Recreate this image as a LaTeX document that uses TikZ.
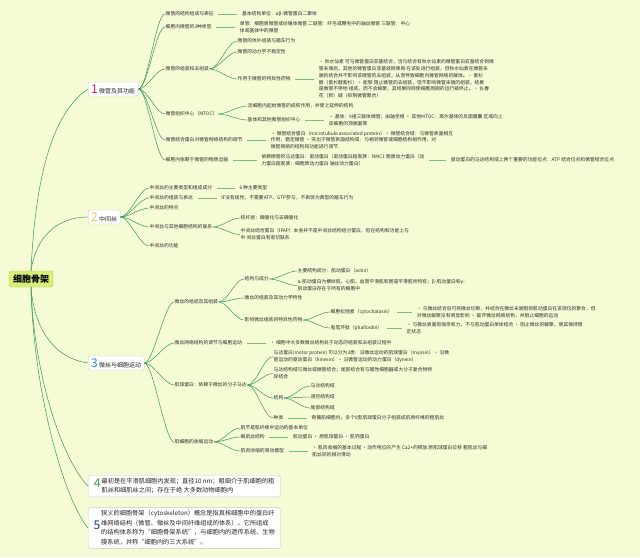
\documentclass[tikz,border=0pt]{standalone}
\usepackage{fontspec}
\setmainfont{Noto Sans CJK SC}
\usepackage{xcolor}
\usetikzlibrary{positioning}
\definecolor{bgcolor}{RGB}{245,251,212}
\definecolor{rootcolor}{RGB}{216,238,118}
\definecolor{branchcolor}{RGB}{58,148,100}
\definecolor{linkcolor}{RGB}{120,190,130}
\definecolor{leafcolor}{RGB}{45,45,45}
\definecolor{numone}{RGB}{222,30,72}
\definecolor{numtwo}{RGB}{246,196,60}
\definecolor{numthree}{RGB}{40,140,215}
\definecolor{numfour}{RGB}{50,160,60}
\definecolor{numfive}{RGB}{30,50,140}
\newcommand{\leaffont}{\fontsize{4.8}{6.8}\selectfont}
\newcommand{\topicfont}{\fontsize{6}{8}\selectfont}
\newcommand{\notefont}{\fontsize{6.2}{9.8}\selectfont}
\newcommand{\topicnum}[2]{\textcolor{#1}{\fontsize{12}{12}\selectfont #2}}

\begin{document}
\begin{tikzpicture}[x=1pt, y=-1pt,
	leaf/.style={anchor=west, inner sep=0.5pt, align=left, font=\leaffont, text=leafcolor},
	topic/.style={anchor=west, draw=black!22, fill=white, rounded corners=1.5pt, inner xsep=3pt, inner ysep=1pt, minimum height=14pt, font=\topicfont, text=black!85},
	rootnode/.style={fill=rootcolor, draw=rootcolor!85!black, rounded corners=2pt, font=\fontsize{9}{9}\selectfont\bfseries, minimum width=44pt, minimum height=16pt, inner sep=1pt},
	branch/.style={draw=branchcolor, line width=0.5pt},
	link/.style={draw=linkcolor, line width=0.9pt, shorten <=4pt, shorten >=4pt},
	fancurve/.style={to path={.. controls +(9pt,0pt) and +(-9pt,0pt) .. (\tikztotarget)}}
	]
\path[use as bounding box, fill=bgcolor] (0,0) rectangle (640,557);

% root and main topics
\node[rootnode] (root) at (31,279) {细胞骨架};
\node[topic] (t1) at (88,89) {\topicnum{numone}{1}\ 微管及其功能};
\node[topic] (t2) at (88,217) {\topicnum{numtwo}{2}\ 中间丝};
\node[topic] (t3) at (88,363) {\topicnum{numthree}{3}\ 微丝与细胞运动};
\node[topic, minimum width=192pt, inner ysep=1pt] (t4) at (88,486) {\topicnum{numfour}{4}\,{\notefont\begin{tabular}{@{}l@{}}
最初是在平滑肌细胞内发现；直径10 nm；粗细介于肌细胞的粗\\
肌丝和细肌丝之间；存在于绝 大多数动物细胞内\end{tabular}}};
\node[topic, minimum width=192pt, inner ysep=1pt] (t5) at (88,528) {\topicnum{numfive}{5}\,{\notefont\begin{tabular}{@{}l@{}}
狭义的细胞骨架（cytoskeleton）概念是指真核细胞中的蛋白纤\\
维网络结构（微管、微丝及中间纤维组成的体系）。它所组成\\
的结构体系称为“细胞骨架系统”，与细胞内的遗传系统、生物\\
膜系统，并称“细胞内的三大系统”。\end{tabular}}};

\draw[branch] (root.north) .. controls +(5,-110) and +(-30,20) .. (t1.west);
\draw[branch] (root.north) .. controls +(5,-35) and +(-30,0) .. (t2.west);
\draw[branch] (root.south) .. controls +(3,40) and +(-35,-5) .. (t3.west);
\draw[branch] (root.south) .. controls +(3,90) and +(-25,-25) .. (t4.west);
\draw[branch] (root.south) .. controls +(2,100) and +(-25,-30) .. (t5.west);

% 1 微管及其功能
\node[leaf] (t1-1) at (165,14) {微管的结构组成与表征};
\node[leaf] (t1-2) at (165,27) {细胞内微管的3种类型};
\node[leaf] (t1-3) at (165,69) {微管的组装和去组装};
\node[leaf] (t1-4) at (165,114) {微管组织中心（MTOC）};
\node[leaf] (t1-5) at (165,140) {微管结合蛋白对微管网络结构的调节};
\node[leaf] (t1-6) at (165,160) {细胞内依赖于微管的物质运输};
\foreach \c in {t1-1,t1-2,t1-3,t1-4,t1-5,t1-6}
	\draw[branch] (t1.east) to[fancurve] (\c.west);

\node[leaf, right=27pt of t1-1] (t1-1-1) {基本结构单位：αβ-微管蛋白二聚体};
\node[leaf, right=27pt of t1-2] (t1-2-1) {单管：细胞质微管或纺锤体微管 二联管：纤毛或鞭毛中的轴丝微管 三联管：中心\\体或基体中的微管};
\node[leaf] (t1-3-1) at (237,41) {微管的体外组装与踏车行为};
\node[leaf] (t1-3-2) at (237,52) {微管的动力学不稳定性};
\node[leaf] (t1-3-3) at (237,79) {作用于微管的特异性药物};
\foreach \c in {t1-3-1,t1-3-2,t1-3-3}
	\draw[branch] (t1-3.east) to[fancurve] (\c.west);
\node[leaf, right=27pt of t1-3-3] (t1-3-3-1) {• 秋水仙素 可与微管蛋白亚基结合，当与结合有秋水仙素的微管蛋白亚基结合到微\\
管末端后，其他的微管蛋白亚基就很难再 在该处进行组装，但秋水仙素在微管末\\
端的结合并不影响该微管的去组装，从而导致细胞内微管网络的解体。• 紫杉\\
醇（紫杉醇紫杉）• 能够 阻止微管的去组装，但不影响微管末端的组装，结果\\
是微管不停地 组装，而不会解聚，其结果同样使细胞周期的运行被终止。• 长春\\
花（新）碱（抑制微管聚合）};
\node[leaf] (t1-4-1) at (247,106) {活细胞内起始微管的成核作用，并使之延伸的结构};
\node[leaf] (t1-4-2) at (247,120) {基体和其他微管组织中心};
\foreach \c in {t1-4-1,t1-4-2}
	\draw[branch] (t1-4.east) to[fancurve] (\c.west);
\node[leaf, right=27pt of t1-4-2] (t1-4-2-1) {• 基体：9组三联体微管；由轴至根 • 其他MTOC：高尔基体的反面膜囊 区域向上\\皮细胞的顶端面等};
\node[leaf, right=27pt of t1-5] (t1-5-1) {• 微管结合蛋白（microtubule associated protein）• 微管结合域：与微管表面相互\\
作用，稳定微管 • 突出于微管表面结构域：与相邻微管或细胞结构相作用，对\\
微管网络的结构和功能进行调节};
\node[leaf, right=32pt of t1-6] (t1-6-1) {依赖微管的马达蛋白：驱动蛋白（驱动蛋白超家族：NMC1 胞质动力蛋白（动\\
力蛋白超家族：细胞质动力蛋白 轴丝动力蛋白）};
\node[leaf, right=25pt of t1-6-1] (t1-6-1-1) {驱动蛋白的马达结构域上两个重要的功能位点：ATP 结合位点和微管结合位点};
\foreach \a/\b in {t1-1/t1-1-1, t1-2/t1-2-1, t1-3-3/t1-3-3-1, t1-4-2/t1-4-2-1, t1-5/t1-5-1, t1-6/t1-6-1, t1-6-1/t1-6-1-1}
	\draw[link] (\a.east) -- (\b.west);

% 2 中间丝
\node[leaf] (t2-1) at (149,188) {中间丝的主要类型和组成成分};
\node[leaf] (t2-2) at (149,198) {中间丝的组装与表达};
\node[leaf] (t2-3) at (149,208) {中间丝的特点};
\node[leaf] (t2-4) at (149,227) {中间丝与其他细胞结构的联系};
\node[leaf] (t2-5) at (149,246) {中间丝的功能};
\foreach \c in {t2-1,t2-2,t2-3,t2-4,t2-5}
	\draw[branch] (t2.east) to[fancurve] (\c.west);
\node[leaf, right=26pt of t2-1] (t2-1-1) {6 种主要类型};
\node[leaf, right=27pt of t2-2] (t2-2-1) {IF没有极性，不需要ATP、GTP参与，不表现为典型的踏车行为};
\node[leaf] (t2-4-1) at (240,218) {核纤层：磷酸化与去磷酸化};
\node[leaf] (t2-4-2) at (240,234.5) {中间丝结合蛋白（IFAP）本身并不是中间丝结构组分蛋白，但在结构和功能上与\\中 间丝蛋白有密切联系};
\foreach \c in {t2-4-1,t2-4-2}
	\draw[branch] (t2-4.east) to[fancurve] (\c.west);
\foreach \a/\b in {t2-1/t2-1-1, t2-2/t2-2-1}
	\draw[link] (\a.east) -- (\b.west);

% 3 微丝与细胞运动
\node[leaf] (t3-1) at (174,302) {微丝的组成及其组装};
\node[leaf] (t3-2) at (174,343) {微丝网络结构的调节与细胞运动};
\node[leaf] (t3-3) at (174,385) {肌球蛋白：依赖于微丝的分子马达};
\node[leaf] (t3-4) at (174,442) {肌细胞的收缩运动};
\foreach \c in {t3-1,t3-2,t3-3,t3-4}
	\draw[branch] (t3.east) to[fancurve] (\c.west);

\node[leaf] (t3-1-1) at (244,279) {结构与成分};
\node[leaf] (t3-1-2) at (244,298) {微丝的组装及其动力学特性};
\node[leaf] (t3-1-3) at (244,320) {影响微丝组装的特异性药物};
\foreach \c in {t3-1-1,t3-1-2,t3-1-3}
	\draw[branch] (t3-1.east) to[fancurve] (\c.west);
\node[leaf] (t3-1-1-1) at (297,271) {主要结构成分：肌动蛋白（actin）};
\node[leaf] (t3-1-1-2) at (297,285.5) {α-肌动蛋白为横纹肌、心肌、血管平滑肌和肠道平滑肌所特有；β-肌动蛋白和γ-\\肌动蛋白存在于所有的细胞中};
\foreach \c in {t3-1-1-1,t3-1-1-2}
	\draw[branch] (t3-1-1.east) to[fancurve] (\c.west);
\node[leaf] (t3-1-3-1) at (330,312) {细胞松弛素（cytochalasin）};
\node[leaf] (t3-1-3-2) at (330,328) {鬼笔环肽（phalloidin）};
\foreach \c in {t3-1-3-1,t3-1-3-2}
	\draw[branch] (t3-1-3.east) to[fancurve] (\c.west);
\node[leaf, right=23pt of t3-1-3-1] (t3-1-3-1-1) {• 与微丝结合后可将微丝切断，并结合在微丝末端阻抑肌动蛋白在该部位的聚合，但\\对微丝解聚没有明显影响 • 破坏微丝网络结构，并阻止细胞的运动};
\node[leaf, right=23pt of t3-1-3-2] (t3-1-3-2-1) {• 与微丝表面有强亲和力，不与肌动蛋白单体结合 • 阻止微丝的解聚，使其保持稳\\定状态};
\node[leaf, right=27pt of t3-2] (t3-2-1) {• 细胞中大多数微丝结构处于动态的组装和去组装过程中};

\node[leaf] (t3-3-1) at (273,356.5) {马达蛋白(motor protein) 可以分为3类：沿微丝运动的肌球蛋白（myosin）• 沿微\\管运动的驱动蛋白（kinesin）• 沿微管运动的动力蛋白（dynein）};
\node[leaf] (t3-3-2) at (273,373.5) {马达结构域与微丝或微管结合；尾部结合有与膜性细胞器或大分子复合物特\\异结合};
\node[leaf] (t3-3-3) at (273,398) {结构};
\node[leaf] (t3-3-4) at (273,418) {种类};
\foreach \c in {t3-3-1,t3-3-2,t3-3-3,t3-3-4}
	\draw[branch] (t3-3.east) to[fancurve] (\c.west);
\node[leaf] (t3-3-3-1) at (310,386) {马达结构域};
\node[leaf] (t3-3-3-2) at (310,397) {调控结构域};
\node[leaf] (t3-3-3-3) at (310,408) {尾部结构域};
\foreach \c in {t3-3-3-1,t3-3-3-2,t3-3-3-3}
	\draw[branch] (t3-3-3.east) to[fancurve] (\c.west);
\node[leaf, right=27pt of t3-3-4] (t3-3-4-1) {骨骼肌细胞内，多个II型肌球蛋白分子组装成肌原纤维的粗肌丝};

\node[leaf] (t3-4-1) at (240,428) {肌节是肌纤维中运动的基本单位};
\node[leaf] (t3-4-2) at (240,437) {细肌丝结构};
\node[leaf] (t3-4-3) at (240,451) {肌肉收缩的滑动模型};
\foreach \c in {t3-4-1,t3-4-2,t3-4-3}
	\draw[branch] (t3-4.east) to[fancurve] (\c.west);
\node[leaf, right=27pt of t3-4-2] (t3-4-2-1) {肌动蛋白 • 原肌球蛋白 • 肌钙蛋白};
\node[leaf, right=27pt of t3-4-3] (t3-4-3-1) {• 肌肉收缩的基本过程 •动作电位的产生 Ca2+的释放 原肌球蛋白位移 粗肌丝与细\\肌丝间的相对滑动};
\foreach \a/\b in {t3-1-3-1/t3-1-3-1-1, t3-1-3-2/t3-1-3-2-1, t3-2/t3-2-1, t3-3-4/t3-3-4-1, t3-4-2/t3-4-2-1, t3-4-3/t3-4-3-1}
	\draw[link] (\a.east) -- (\b.west);

\end{tikzpicture}
\end{document}
